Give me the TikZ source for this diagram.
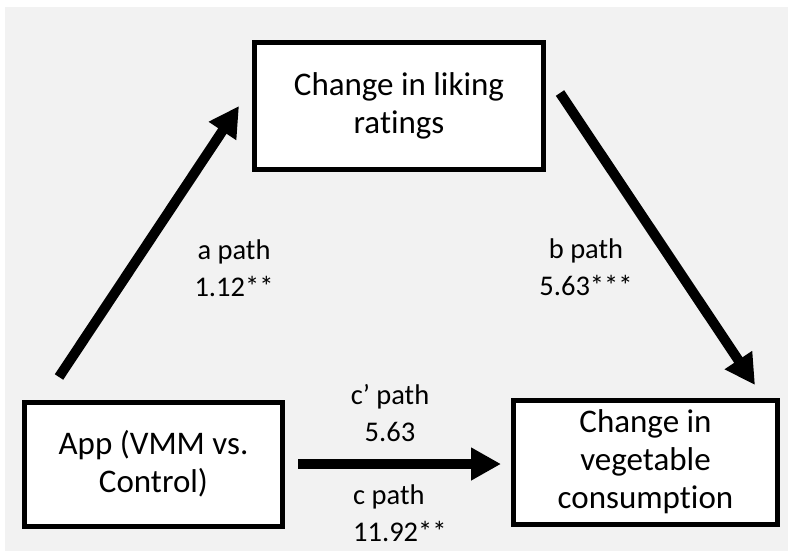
\documentclass[tikz,border=0pt]{standalone}
\usepackage{fontspec}
\setmainfont{Carlito}[Ligatures=CommonOff]
\usetikzlibrary{arrows.meta}
\definecolor{panelgray}{HTML}{F2F2F2}
\tikzset{
  varbox/.style={draw, line width=5pt, fill=white, align=center, inner sep=0pt,
    font=\fontsize{33}{38}\selectfont},
  pathlabel/.style={inner sep=0pt, font=\fontsize{28.5}{37}\selectfont},
  effect/.style={line width=10pt, -{Triangle[length=30pt,width=31pt]}}
}
\begin{document}
\begin{tikzpicture}[x=1pt,y=-1pt]
\useasboundingbox (0,0) rectangle (788,551);
% background panel
\fill[white] (0,0) rectangle (788,551);
\fill[panelgray] (5,7) rectangle (788,551);
% variables
\node[varbox, minimum width=289pt, minimum height=127pt] (liking) at (399,106)
  {Change in liking\\ratings};
\node[varbox, minimum width=258pt, minimum height=124pt] (app) at (153.5,464)
  {App (VMM vs.\\Control)};
\node[varbox, minimum width=264pt, minimum height=124pt] (veg) at (645.5,462)
  {Change in\\vegetable\\consumption};
% free ends of the a and b paths
\coordinate (aTail) at (59,377);
\coordinate (aTip) at (239,106);
\coordinate (bTail) at (560,93);
\coordinate (bTip) at (755,385);
% effects
\draw[effect] (aTail) -- (aTip);
\draw[effect] (bTail) -- (bTip);
\draw[effect, shorten <=13pt, shorten >=10pt] (app.east) -- (app.east -| veg.west);
% path labels
\node[pathlabel, align=center] (alab) at (234,268) {a path\\1.12**};
\node[pathlabel, align=center] (blab) at (586,267) {b path\\5.63***};
\node[pathlabel, align=center] (cplab) at (390,413) {c’ path\\5.63};
\node[pathlabel, align=left, anchor=west] (clab) at (353,513) {c path\\11.92**};
\end{tikzpicture}
\end{document}
